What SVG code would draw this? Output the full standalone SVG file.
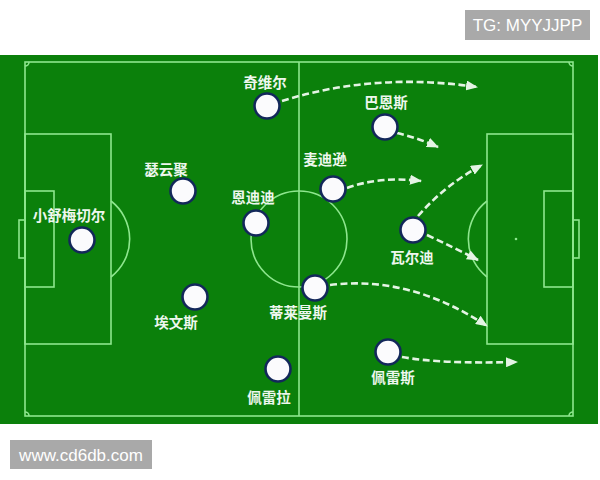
<svg xmlns="http://www.w3.org/2000/svg" width="600" height="480" viewBox="0 0 600 480">
<style>
.line{fill:none;stroke:#8ee68e;stroke-width:1.6}
.player circle{fill:#fbfbfd;stroke:#13285a;stroke-width:2.6}
.player text{font-family:"Noto Sans CJK SC","Noto Sans",sans-serif;font-size:14.5px;font-weight:bold;fill:#eef7ee;text-anchor:middle}
.run{fill:none;stroke:#e4f4e4;stroke-width:2.6;stroke-dasharray:7 3.5;marker-end:url(#ah)}
.wm{fill:#a9a9a9}
.wmt{font-family:"Liberation Sans",Arial,sans-serif;font-size:17px;fill:#ffffff}
</style>
<defs>
<marker id="ah" markerUnits="userSpaceOnUse" markerWidth="12" markerHeight="10" refX="11" refY="5" orient="auto">
<path d="M0,0 L12,5 L0,10 z" fill="#e4f4e4"/>
</marker>
</defs>
<rect width="600" height="480" fill="#ffffff"/>
<g id="watermark-top">
<rect class="wm" x="465" y="10" width="125" height="30"/>
<text class="wmt" x="527.5" y="31" text-anchor="middle">TG: MYYJJPP</text>
</g>
<g id="pitch">
<rect x="0" y="55" width="598" height="369" fill="#0b800b"/>
<rect class="line" x="25" y="62" width="548" height="354"/>
<line class="line" x1="299" y1="62" x2="299" y2="416"/>
<circle class="line" cx="299" cy="239" r="48"/>
<rect class="line" x="25" y="134" width="86" height="210"/>
<rect class="line" x="25" y="191" width="29" height="96"/>
<rect class="line" x="19" y="220" width="6" height="38"/>
<path class="line" d="M111,201 A48,48 0 0 1 111,277"/>
<rect class="line" x="487" y="134" width="86" height="210"/>
<rect class="line" x="544" y="191" width="29" height="96"/>
<rect class="line" x="573" y="220" width="6" height="38"/>
<path class="line" d="M487,201 A48,48 0 0 0 487,277"/>
<circle cx="516" cy="239" r="1.3" fill="#8ee68e"/>
<path class="line" d="M25,66 A4,4 0 0 0 29,62"/>
<path class="line" d="M569,62 A4,4 0 0 0 573,66"/>
<path class="line" d="M25,412 A4,4 0 0 1 29,416"/>
<path class="line" d="M569,416 A4,4 0 0 1 573,412"/>
</g>
<g id="connectors">
<path class="run" d="M282,101 Q374,72 477,87"/>
<path class="run" d="M397,133 Q418,138 438,147"/>
<path class="run" d="M347,188 Q380,176 421,181"/>
<path class="run" d="M418,216 Q445,185 482,165"/>
<path class="run" d="M427,235 Q455,248 478,260"/>
<path class="run" d="M330,285 Q410,275 487,326"/>
<path class="run" d="M402,357 Q440,364 517,362"/>
</g>
<g id="p-qiweier" class="player"><circle cx="267" cy="106" r="12.5"/><text x="265" y="88">奇维尔</text></g>
<g id="p-basi" class="player"><circle cx="385" cy="127" r="12.5"/><text x="386" y="108">巴恩斯</text></g>
<g id="p-seyunju" class="player"><circle cx="183" cy="191" r="12.5"/><text x="166" y="175">瑟云聚</text></g>
<g id="p-maidixun" class="player"><circle cx="333" cy="189" r="12.5"/><text x="325" y="165">麦迪逊</text></g>
<g id="p-endidi" class="player"><circle cx="256" cy="223" r="12.5"/><text x="253" y="203">恩迪迪</text></g>
<g id="p-shumeiqieer" class="player"><circle cx="82" cy="240" r="12.5"/><text x="69" y="221">小舒梅切尔</text></g>
<g id="p-waerdi" class="player"><circle cx="413" cy="230" r="12.5"/><text x="412" y="263">瓦尔迪</text></g>
<g id="p-dilaimansi" class="player"><circle cx="315" cy="288" r="12.5"/><text x="298" y="318">蒂莱曼斯</text></g>
<g id="p-aiwensi" class="player"><circle cx="195" cy="297" r="12.5"/><text x="176" y="328">埃文斯</text></g>
<g id="p-peileisi" class="player"><circle cx="388" cy="352" r="12.5"/><text x="393" y="383">佩雷斯</text></g>
<g id="p-peileila" class="player"><circle cx="278" cy="369" r="12.5"/><text x="269" y="403">佩雷拉</text></g>
<g id="watermark-bottom">
<rect class="wm" x="10" y="440" width="142" height="29"/>
<text class="wmt" x="81" y="461" text-anchor="middle">www.cd6db.com</text>
</g>
</svg>
